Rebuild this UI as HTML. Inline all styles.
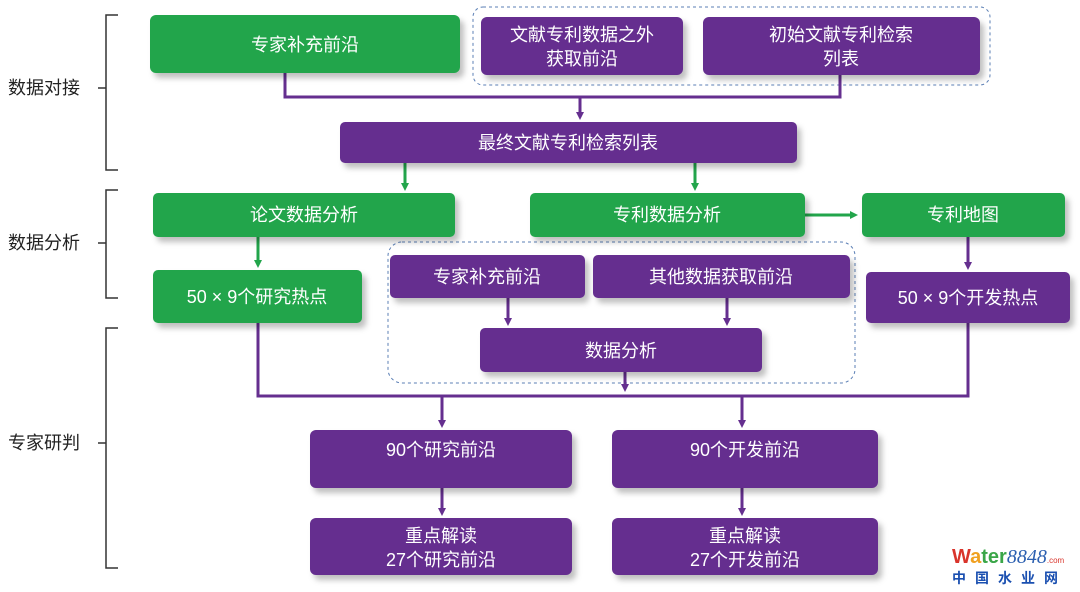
<!DOCTYPE html>
<html><head><meta charset="utf-8"><style>
body{margin:0;background:#fff}
svg{display:block}
text{font-family:"Liberation Sans","Noto Sans CJK SC",sans-serif;font-size:18px}
.w{fill:#fff}
.k{fill:#222}
.g{fill:#22a54b}
.p{fill:#652f8f}
.l{stroke:#652f8f;stroke-width:3;fill:none}
.lg{stroke:#22a54b;stroke-width:3;fill:none}
</style></head><body>
<svg width="1080" height="592" viewBox="0 0 1080 592">
<defs>
<filter id="s" x="-10%" y="-20%" width="130%" height="160%"><feDropShadow dx="4" dy="5" stdDeviation="3" flood-color="#000" flood-opacity="0.25"/></filter>
<marker id="ap" markerWidth="8" markerHeight="8" refX="4" refY="4" orient="auto" markerUnits="userSpaceOnUse"><path d="M0,0 L8,4 L0,8z" fill="#652f8f"/></marker>
<marker id="ag" markerWidth="8" markerHeight="8" refX="4" refY="4" orient="auto" markerUnits="userSpaceOnUse"><path d="M0,0 L8,4 L0,8z" fill="#22a54b"/></marker>
</defs>
<g stroke="#333" stroke-width="1.5" fill="none">
<path d="M118,15 H106 V170 H118 M106,88 H98"/>
<path d="M118,190 H106 V298 H118 M106,243 H98"/>
<path d="M118,328 H106 V568 H118 M106,443 H98"/>
</g>
<text class="k" x="8" y="94">数据对接</text>
<text class="k" x="8" y="249">数据分析</text>
<text class="k" x="8" y="449">专家研判</text>
<rect x="473" y="7" width="517" height="78" rx="10" fill="none" stroke="#5b7fb5" stroke-dasharray="3,3"/>
<rect x="388" y="242" width="467" height="141" rx="14" fill="none" stroke="#5b7fb5" stroke-dasharray="3,3"/>
<path class="l" d="M285,73 V97 H840 V75"/>
<path class="l" d="M580,97 V116" marker-end="url(#ap)"/>
<path class="lg" d="M405,163 V187" marker-end="url(#ag)"/>
<path class="lg" d="M695,163 V187" marker-end="url(#ag)"/>
<path class="lg" d="M805,215 H854" marker-end="url(#ag)"/>
<path class="lg" d="M258,237 V264" marker-end="url(#ag)"/>
<path class="l" d="M968,237 V266" marker-end="url(#ap)"/>
<path class="l" d="M508,298 V322" marker-end="url(#ap)"/>
<path class="l" d="M727,298 V322" marker-end="url(#ap)"/>
<path class="l" d="M258,323 V396 H968 V323"/>
<path class="l" d="M625,372 V388" marker-end="url(#ap)"/>
<path class="l" d="M442,396 V424" marker-end="url(#ap)"/>
<path class="l" d="M742,396 V424" marker-end="url(#ap)"/>
<path class="l" d="M442,488 V512" marker-end="url(#ap)"/>
<path class="l" d="M742,488 V512" marker-end="url(#ap)"/>
<g filter="url(#s)">
<rect class="g" x="150" y="15" width="310" height="58" rx="6"/>
<rect class="p" x="481" y="17" width="202" height="58" rx="6"/>
<rect class="p" x="703" y="17" width="277" height="58" rx="6"/>
<rect class="p" x="340" y="122" width="457" height="41" rx="5"/>
<rect class="g" x="153" y="193" width="302" height="44" rx="5"/>
<rect class="g" x="530" y="193" width="275" height="44" rx="5"/>
<rect class="g" x="862" y="193" width="203" height="44" rx="5"/>
<rect class="g" x="153" y="270" width="209" height="53" rx="5"/>
<rect class="p" x="866" y="272" width="204" height="51" rx="5"/>
<rect class="p" x="390" y="255" width="195" height="43" rx="5"/>
<rect class="p" x="593" y="255" width="257" height="43" rx="5"/>
<rect class="p" x="480" y="328" width="282" height="44" rx="5"/>
<rect class="p" x="310" y="430" width="262" height="58" rx="6"/>
<rect class="p" x="612" y="430" width="266" height="58" rx="6"/>
<rect class="p" x="310" y="518" width="262" height="57" rx="6"/>
<rect class="p" x="612" y="518" width="266" height="57" rx="6"/>
</g>
<g class="w" text-anchor="middle">
<text x="305" y="51">专家补充前沿</text>
<text x="582" y="41">文献专利数据之外</text>
<text x="582" y="65">获取前沿</text>
<text x="841" y="41">初始文献专利检索</text>
<text x="841" y="65">列表</text>
<text x="568" y="149">最终文献专利检索列表</text>
<text x="304" y="221">论文数据分析</text>
<text x="667" y="221">专利数据分析</text>
<text x="963" y="221">专利地图</text>
<text x="257" y="303">50 × 9个研究热点</text>
<text x="968" y="304">50 × 9个开发热点</text>
<text x="487" y="283">专家补充前沿</text>
<text x="721" y="283">其他数据获取前沿</text>
<text x="621" y="357">数据分析</text>
<text x="441" y="456">90个研究前沿</text>
<text x="745" y="456">90个开发前沿</text>
<text x="441" y="542">重点解读</text>
<text x="441" y="566">27个研究前沿</text>
<text x="745" y="542">重点解读</text>
<text x="745" y="566">27个开发前沿</text>
</g>
<text x="952" y="563" style="font-size:20px;font-weight:bold"><tspan fill="#d9342b">W</tspan><tspan fill="#f0a020">a</tspan><tspan fill="#3aa648">ter</tspan><tspan fill="#2b5fb0" style="font-style:italic;font-weight:normal;font-family:'Liberation Serif',serif">8848</tspan><tspan fill="#d9342b" style="font-size:8px;font-weight:normal">.com</tspan></text>
<text x="952" y="583" fill="#1a4fb0" style="font-size:14px;letter-spacing:9px;font-weight:bold">中国水业网</text>
</svg>
</body></html>
